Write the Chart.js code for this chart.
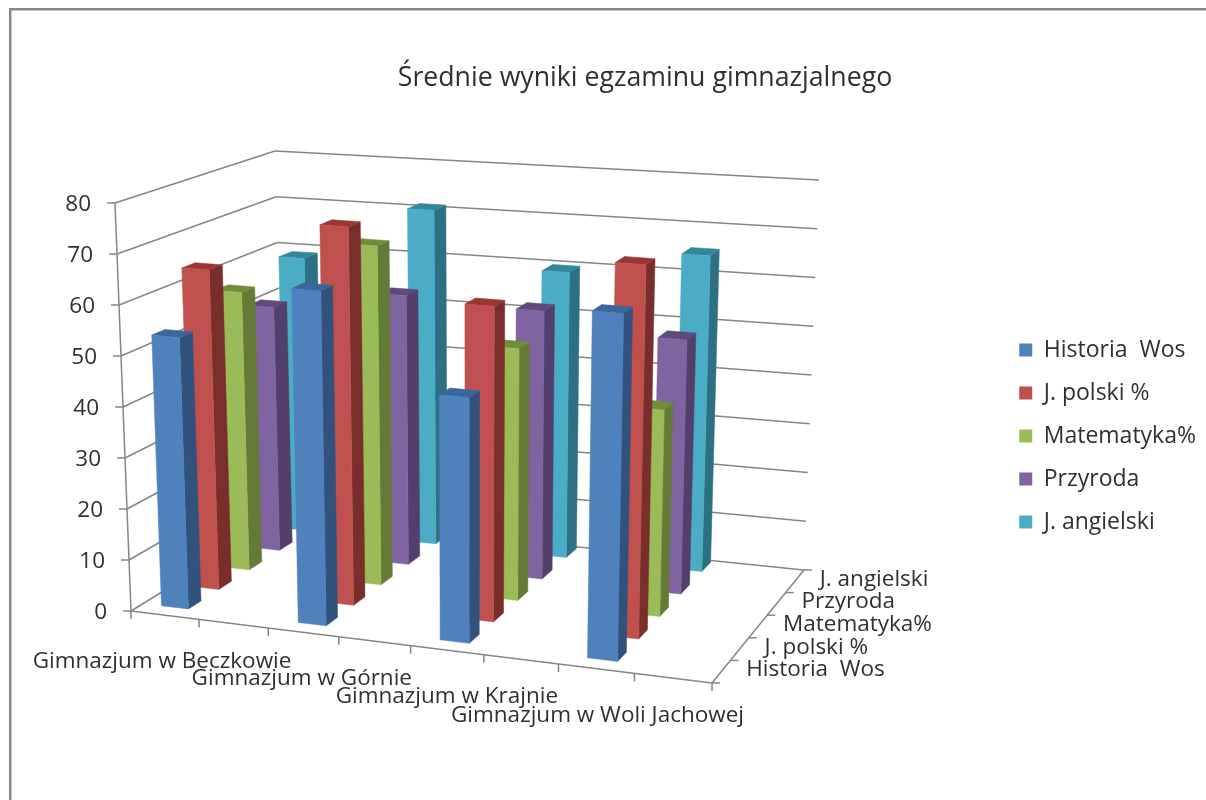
<!DOCTYPE html>
<html>
<head>
<meta charset="utf-8">
<title>Średnie wyniki egzaminu gimnazjalnego</title>
<script src="https://cdn.jsdelivr.net/npm/chart.js@4"></script>
<style>
    html, body { margin: 0; padding: 0; background: #fff; overflow: hidden; }
    canvas { display: block; }
</style>
</head>
<body>
<canvas id="chart" width="1206" height="800"></canvas>
<script>
// Data -----------------------------------------------------------------------------------

var categories = ['Gimnazjum w Beczkowie', 'Gimnazjum w Górnie', 'Gimnazjum w Krajnie', 'Gimnazjum w Woli Jachowej'];
var seriesNames = ['Historia  Wos', 'J. polski %', 'Matematyka%', 'Przyroda', 'J. angielski'];

var historia = [53.4, 65, 47, 65.6];
var polski = [64.2, 75, 61.6, 72];
var matematyka = [57, 68.6, 50.2, 40.6];
var przyroda = [51, 55.6, 54.6, 51];
var angielski = [58.5, 70.6, 59.4, 64.8];

var valueTicks = [0, 10, 20, 30, 40, 50, 60, 70, 80];

var seriesValues = [historia, polski, matematyka, przyroda, angielski];

// Constants ------------------------------------------------------------------------------

var CHART_TITLE = 'Średnie wyniki egzaminu gimnazjalnego';
var FONT_FAMILY = '"Open Sans"';
var TEXT_COLOR = '#303030';
var LINE_COLOR = '#868686';

// front, side and top colour of the boxes
var FRONT_COLORS = ['#4F81BD', '#C0504D', '#9BBB59', '#8064A2', '#4BACC6'];
var SIDE_COLORS = ['#30527C', '#7A2E2C', '#667A38', '#533F6B', '#2E7083'];
var TOP_COLORS = ['#3A679B', '#9A3735', '#718C3B', '#5F4A7C', '#34869C'];

// corners of the 3D box on screen: F front, B back, L left, R right, 0 floor, 1 ceiling
var F_L_0 = [131, 611];
var F_L_1 = [115, 203];
var F_R_0 = [712, 683];
var F_R_1 = [724, 251];
var B_L_0 = [284, 517];
var B_L_1 = [275, 151];
var B_R_0 = [804, 570];
var B_R_1 = [819, 180];

var WIDTH_PERSPECTIVE = 0.928;
var BAR_SHIFT = -0.066;
var ROW_START = 0.08;
var ROW_STEP = 0.205;
var BAR_DEPTH = 0.085;
var TICK_LENGTH = 8;
var TEXT_DROP = 2;

// Functions ------------------------------------------------------------------------------

function lerp(p, q, t) {
    return [p[0] + (q[0] - p[0]) * t, p[1] + (q[1] - p[1]) * t];
}

// u along the categories, v into the depth, w up the values, all 0..1
function project(u, v, w) {
    var pu = WIDTH_PERSPECTIVE * u / (1 + (WIDTH_PERSPECTIVE - 1) * u);
    var front = lerp(lerp(F_L_0, F_R_0, pu), lerp(F_L_1, F_R_1, pu), w);
    var back = lerp(lerp(B_L_0, B_R_0, pu), lerp(B_L_1, B_R_1, pu), w);
    return lerp(front, back, v);
}

function polygon(ctx, points, color) {
    ctx.beginPath();
    points.forEach(function (p, i) {
        if (i === 0) ctx.moveTo(p[0], p[1]);
        else ctx.lineTo(p[0], p[1]);
    });
    ctx.closePath();
    ctx.fillStyle = color;
    ctx.strokeStyle = color;
    ctx.lineWidth = 0.5;
    ctx.fill();
    ctx.stroke();
}

function line(ctx, p, q) {
    ctx.beginPath();
    ctx.moveTo(p[0], p[1]);
    ctx.lineTo(q[0], q[1]);
    ctx.stroke();
}

function drawFrame(ctx, chart) {
    ctx.fillStyle = LINE_COLOR;
    ctx.fillRect(9, 8, chart.width, 2);
    ctx.fillRect(9, 8, 2, chart.height);
    ctx.fillStyle = '#C4C4C4';
    ctx.fillRect(11, 10, chart.width, 1);
    ctx.fillRect(11, 10, 1, chart.height);
}

function drawWalls(chart, ctx) {
    var yScale = chart.scales.y;
    var span = yScale.bottom - yScale.top;

    ctx.strokeStyle = LINE_COLOR;
    ctx.lineWidth = 1.5;
    ctx.font = '22.5px ' + FONT_FAMILY;
    ctx.fillStyle = TEXT_COLOR;
    ctx.textBaseline = 'middle';

    yScale.ticks.forEach(function (tick) {
        var w = (yScale.bottom - yScale.getPixelForValue(tick.value)) / span;
        var corner = project(0, 0, w);
        line(ctx, corner, project(0, 1, w));
        line(ctx, project(0, 1, w), project(1, 1, w));
        line(ctx, corner, [corner[0] - TICK_LENGTH, corner[1]]);
        ctx.textAlign = 'right';
        ctx.fillText(tick.label, corner[0] - 24, corner[1] + TEXT_DROP);
    });

    line(ctx, project(0, 0, 0), project(0, 0, 1));
    line(ctx, project(0, 0, 0), project(1, 0, 0));
    line(ctx, project(1, 0, 0), project(1, 1, 0));

    // tick marks under the front edge, two for each category
    for (var i = 0; i <= categories.length * 2; i++) {
        var p = project(i / (categories.length * 2), 0, 0);
        line(ctx, p, [p[0], p[1] + TICK_LENGTH]);
    }

    for (var j = 0; j <= seriesNames.length; j++) {
        var q = project(1, j / seriesNames.length, 0);
        line(ctx, q, [q[0] + TICK_LENGTH, q[1]]);
    }
}

function drawBoxes(chart, ctx) {
    var area = chart.chartArea;
    var yScale = chart.scales.y;
    var span = yScale.bottom - yScale.top;

    // back row first so the front rows cover it
    for (var s = seriesValues.length - 1; s >= 0; s--) {
        var v0 = ROW_START + ROW_STEP * s;
        var v1 = v0 + BAR_DEPTH;

        chart.getDatasetMeta(s).data.forEach(function (bar) {
            var u0 = (bar.x - bar.width / 2 - area.left) / area.width + BAR_SHIFT;
            var u1 = (bar.x + bar.width / 2 - area.left) / area.width + BAR_SHIFT;
            var w = (yScale.bottom - bar.y) / span;

            polygon(ctx, [project(u1, v0, 0), project(u1, v1, 0), project(u1, v1, w), project(u1, v0, w)], SIDE_COLORS[s]);
            polygon(ctx, [project(u0, v0, w), project(u1, v0, w), project(u1, v1, w), project(u0, v1, w)], TOP_COLORS[s]);
            polygon(ctx, [project(u0, v0, 0), project(u1, v0, 0), project(u1, v0, w), project(u0, v0, w)], FRONT_COLORS[s]);
        });
    }
}

function drawAxisLabels(chart, ctx) {
    var area = chart.chartArea;
    var xScale = chart.scales.x;

    ctx.font = '22.5px ' + FONT_FAMILY;
    ctx.fillStyle = TEXT_COLOR;
    ctx.textBaseline = 'middle';

    ctx.textAlign = 'center';
    categories.forEach(function (name, i) {
        var u = (xScale.getPixelForValue(i) - area.left) / area.width;
        var p = project(u, 0, 0);
        ctx.fillText(name, p[0] - 37, p[1] + 40 + TEXT_DROP);
    });

    ctx.textAlign = 'left';
    seriesNames.forEach(function (name, i) {
        var p = project(1, (i + 0.5) / seriesNames.length, 0);
        ctx.fillText(name, p[0] + 25, p[1] - 4 + TEXT_DROP);
    });
}

var box3dPlugin = {
    id: 'box3d',
    beforeDraw: function (chart) {
        drawFrame(chart.ctx, chart);
    },
    afterDatasetsDraw: function (chart) {
        var ctx = chart.ctx;
        ctx.save();
        drawWalls(chart, ctx);
        drawBoxes(chart, ctx);
        drawAxisLabels(chart, ctx);
        ctx.restore();
    }
};

function legendLabels() {
    return seriesNames.map(function (name, i) {
        return { text: name, fillStyle: FRONT_COLORS[i], strokeStyle: FRONT_COLORS[i], lineWidth: 0, datasetIndex: i, fontColor: TEXT_COLOR };
    });
}

function initChart() {
    var context = document.getElementById('chart').getContext('2d');

    var datasets = seriesNames.map(function (name, i) {
        return {
            label: name,
            data: seriesValues[i],
            backgroundColor: 'rgba(0,0,0,0)',
            borderWidth: 0,
            grouped: false,
            categoryPercentage: 1,
            barPercentage: 0.2
        };
    });

    new Chart(context, {
        type: 'bar',
        data: { labels: categories, datasets: datasets },
        plugins: [box3dPlugin],
        options: {
            responsive: false,
            animation: false,
            devicePixelRatio: 1,
            layout: { padding: { top: 72, left: 84, right: 0, bottom: 0 } },
            scales: {
                x: { display: false },
                y: {
                    display: false,
                    min: valueTicks[0],
                    max: valueTicks[valueTicks.length - 1],
                    afterBuildTicks: function (axis) {
                        axis.ticks = valueTicks.map(function (v) { return { value: v, label: String(v) }; });
                    }
                }
            },
            plugins: {
                title: {
                    display: true,
                    text: CHART_TITLE,
                    color: TEXT_COLOR,
                    font: { family: FONT_FAMILY, size: 26.7, weight: 'normal' },
                    padding: { top: -10, bottom: 20 }
                },
                legend: {
                    position: 'right',
                    labels: {
                        generateLabels: legendLabels,
                        color: TEXT_COLOR,
                        font: { family: FONT_FAMILY, size: 23 },
                        boxWidth: 13,
                        boxHeight: 13,
                        padding: 20
                    }
                },
                tooltip: { enabled: false }
            }
        }
    });
}

initChart();
</script>
</body>
</html>
